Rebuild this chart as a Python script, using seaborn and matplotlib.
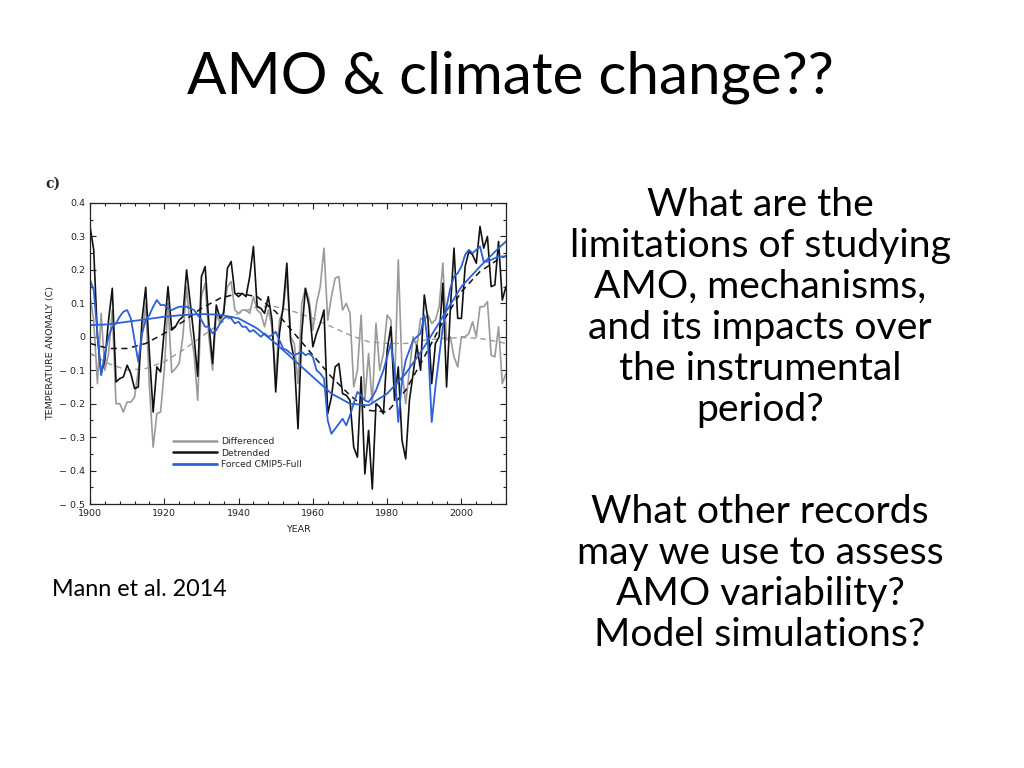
import numpy as np
import pandas as pd
import matplotlib
matplotlib.use("Agg")
import matplotlib.pyplot as plt
import seaborn as sns
from matplotlib.lines import Line2D

# ---------------- data ----------------
years = list(range(1900, 2013))

detrended = [
    0.33, 0.26, 0.0, -0.11, -0.07, 0.05, 0.145, -0.135, -0.125, -0.12,
    -0.085, -0.11, -0.155, -0.15, 0.05, 0.148, -0.05, -0.225, -0.09, -0.105,
    0.02, 0.15, 0.02, 0.03, 0.05, 0.06, 0.2, 0.1, 0.0, -0.118,
    0.18, 0.21, 0.04, -0.08, 0.095, 0.055, 0.07, 0.205, 0.225, 0.13,
    0.12, 0.13, 0.12, 0.18, 0.27, 0.09, 0.085, 0.07, 0.12, 0.05,
    -0.165, 0.01, 0.09, 0.22, -0.01, -0.07, -0.275, 0.01, 0.145, 0.09,
    -0.03, 0.01, 0.04, 0.08, -0.23, -0.18, -0.09, -0.08, -0.17, -0.175,
    -0.19, -0.33, -0.36, -0.12, -0.41, -0.28, -0.455, -0.2, -0.21, -0.23,
    -0.04, 0.03, -0.19, -0.09, -0.31, -0.365, -0.19, -0.11, -0.025, -0.1,
    0.125, 0.05, -0.14, -0.02, 0.0, 0.16, -0.15, 0.08, 0.265, 0.055,
    0.055, 0.21, 0.255, 0.245, 0.22, 0.33, 0.265, 0.3, 0.15, 0.155,
    0.285, 0.11, 0.15,
]

differenced = [
    0.12, 0.05, -0.14, 0.07, -0.1, -0.05, 0.08, -0.2, -0.2, -0.225,
    -0.195, -0.195, -0.18, -0.1, 0.0, 0.1, -0.15, -0.33, -0.23, -0.225,
    -0.1, 0.1, -0.107, -0.095, -0.08, 0.0, 0.15, 0.02, -0.05, -0.19,
    0.12, 0.16, 0.0, -0.1, 0.07, 0.04, 0.08, 0.15, 0.165, 0.08,
    0.07, 0.08, 0.08, 0.07, 0.12, 0.08, 0.07, 0.03, 0.08, 0.03,
    -0.12, 0.05, 0.08, 0.18, 0.0, -0.02, -0.14, 0.1, 0.145, 0.11,
    0.02, 0.1, 0.15, 0.265, 0.05, 0.12, 0.175, 0.18, 0.08, 0.1,
    0.07, -0.15, -0.1, 0.065, -0.19, -0.05, -0.2, 0.04, -0.1, -0.05,
    0.065, 0.05, -0.15, 0.23, -0.1, -0.2, -0.1, 0.0, -0.03, 0.055,
    0.05, 0.065, 0.04, 0.05, 0.09, 0.22, -0.01, 0.0, -0.06, -0.09,
    0.0, 0.0, 0.01, 0.045, 0.0, 0.09, 0.09, 0.105, -0.055, -0.06,
    0.03, -0.14, -0.11,
]

forced = [
    0.17, 0.14, 0.01, -0.115, -0.05, 0.0, 0.03, 0.04, 0.06, 0.075,
    0.08, 0.055, -0.01, -0.075, 0.01, 0.05, 0.065, 0.09, 0.11, 0.095,
    0.095, 0.085, 0.08, 0.085, 0.09, 0.09, 0.09, 0.085, 0.08, 0.065,
    0.05, 0.03, 0.03, 0.01, 0.02, 0.04, 0.055, 0.06, 0.055, 0.04,
    0.045, 0.03, 0.03, 0.015, 0.02, 0.01, 0.0, 0.01, 0.0, 0.005,
    0.015, -0.01, -0.035, -0.04, -0.05, -0.055, -0.05, -0.045, -0.055, -0.05,
    -0.06, -0.1, -0.11, -0.125, -0.25, -0.29, -0.275, -0.26, -0.245, -0.265,
    -0.235, -0.2, -0.165, -0.175, -0.19, -0.195, -0.18, -0.16, -0.13, -0.1,
    -0.06, -0.02, -0.1, -0.255, -0.13, -0.07, -0.04, -0.01, 0.0, 0.01,
    0.065, -0.02, -0.255, -0.15, -0.06, 0.03, 0.09, 0.145, 0.18, 0.19,
    0.21, 0.245, 0.26, 0.25, 0.26, 0.27, 0.225, 0.225, 0.23, 0.235,
    0.24, 0.24, 0.24,
]

# smoothed curves (read at 5-year nodes)
smooth_years = [1900, 1905, 1910, 1915, 1920, 1925, 1930, 1935, 1940, 1945,
                1950, 1955, 1960, 1965, 1970, 1975, 1980, 1985, 1990, 1995,
                2000, 2005, 2010, 2012]
detrended_smooth = [-0.02, -0.035, -0.035, -0.02, 0.01, 0.045, 0.085, 0.115, 0.13, 0.12,
                    0.075, 0.01, -0.055, -0.12, -0.175, -0.22, -0.225, -0.16, -0.06, 0.045,
                    0.135, 0.195, 0.232, 0.242]
differenced_smooth = [-0.05, -0.08, -0.1, -0.095, -0.075, -0.04, 0.0, 0.04, 0.07, 0.09,
                      0.09, 0.075, 0.055, 0.03, 0.005, -0.015, -0.02, -0.02, -0.01, -0.005,
                      -0.002, -0.005, -0.015, -0.02]
forced_smooth = [0.035, 0.037, 0.045, 0.052, 0.06, 0.065, 0.068, 0.066, 0.055, 0.025,
                 -0.02, -0.07, -0.12, -0.17, -0.2, -0.205, -0.17, -0.11, -0.03, 0.06,
                 0.15, 0.21, 0.265, 0.285]

legend_labels = ["Differenced", "Detrended", "Forced CMIP5-Full"]
yticks = [-0.5, -0.4, -0.3, -0.2, -0.1, 0.0, 0.1, 0.2, 0.3, 0.4]
xticks = [1900, 1920, 1940, 1960, 1980, 2000]

# --------------- style ----------------
sns.set_style("ticks")
plt.rcParams['font.family'] = ['DejaVu Sans']

GRAY = "#9a9a9a"
BLACK = "#111111"
BLUE = "#2d5fd8"

W, H = 1024, 768
fig = plt.figure(figsize=(W / 100, H / 100), dpi=100)
fig.patch.set_facecolor("white")

def fx(px):
    return px / W

def fy(py):
    return 1 - py / H

ax = fig.add_axes([fx(90), fy(504), fx(506) - fx(90), fy(203) - fy(504)])

df = pd.DataFrame({"year": years, "diff": differenced, "det": detrended, "forced": forced})
sdf = pd.DataFrame({"year": smooth_years, "det": detrended_smooth,
                    "diff": differenced_smooth, "forced": forced_smooth})

sns.lineplot(data=sdf, x="year", y="diff", ax=ax, color=GRAY, lw=1.0, linestyle=(0, (4, 3)))
sns.lineplot(data=df, x="year", y="diff", ax=ax, color=GRAY, lw=1.2)
sns.lineplot(data=df, x="year", y="det", ax=ax, color=BLACK, lw=1.2)
sns.lineplot(data=sdf, x="year", y="det", ax=ax, color=BLACK, lw=1.1, linestyle=(0, (4, 3)))
sns.lineplot(data=df, x="year", y="forced", ax=ax, color=BLUE, lw=1.3)
sns.lineplot(data=sdf, x="year", y="forced", ax=ax, color=BLUE, lw=1.3)

ax.set_xlim(1900, 2012)
ax.set_ylim(-0.5, 0.4)
ax.set_yticks(yticks)
ax.set_yticklabels([f"{v:.1f}".replace("-", "\u2212 ") if v != 0 else "0" for v in yticks])
ax.set_xticks(xticks)
ax.set_xticks(list(range(1900, 2013, 4)), minor=True)
ax.set_yticks(list(np.arange(-0.5, 0.41, 0.05)), minor=True)
ax.tick_params(which="both", direction="in", top=True, right=True, labelsize=6.8,
               colors="#222222", width=0.8)
ax.tick_params(which="major", length=4)
ax.tick_params(which="minor", length=2.5)
for s in ax.spines.values():
    s.set_linewidth(0.9)
    s.set_color("#222222")
ax.set_xlabel("YEAR", fontsize=6.8, labelpad=5)
ax.set_ylabel("TEMPERATURE ANOMALY (C)", fontsize=6.8, labelpad=3)

handles = [Line2D([], [], color=GRAY, lw=1.8),
           Line2D([], [], color=BLACK, lw=1.8),
           Line2D([], [], color=BLUE, lw=2.0)]
ax.legend(handles, legend_labels, loc="upper left", bbox_to_anchor=(0.19, 0.235),
          frameon=False, fontsize=6.6, handlelength=4.8, labelspacing=0.3,
          handletextpad=0.5, borderaxespad=0)

fig.text(fx(45), fy(184), "c)", fontsize=10, fontweight="bold", family="DejaVu Serif",
         va="center", ha="left")

# --------------- slide text ----------------
FONT = "Lato"
fig.text(fx(510), fy(94), "AMO & climate change??", fontsize=42, family=FONT,
         ha="center", va="baseline", color="black")

block1 = ["What are the", "limitations of studying", "AMO, mechanisms,",
          "and its impacts over", "the instrumental", "period?"]
block2 = ["What other records", "may we use to assess", "AMO variability?",
          "Model simulations?"]
for i, line in enumerate(block1):
    fig.text(fx(760), fy(216 + 41 * i), line, fontsize=28.2, family=FONT,
             ha="center", va="baseline", color="black")
for i, line in enumerate(block2):
    fig.text(fx(760), fy(523 + 41 * i), line, fontsize=28.2, family=FONT,
             ha="center", va="baseline", color="black")

fig.text(fx(52), fy(596), "Mann et al. 2014", fontsize=16.8, family=FONT,
         ha="left", va="baseline", color="black")

fig.savefig("out.png", dpi=100, facecolor="white")
